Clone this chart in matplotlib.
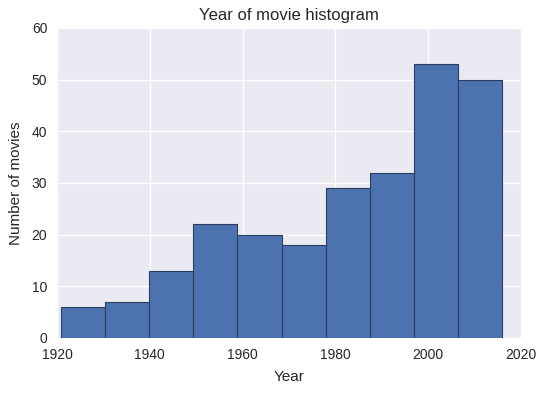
import matplotlib
matplotlib.use("Agg")
import matplotlib.pyplot as plt
import numpy as np

# histogram bins (years) and counts
bin_edges = [1920.8, 1930.3, 1939.9, 1949.4, 1958.9, 1968.4,
             1977.9, 1987.4, 1997.0, 2006.5, 2016.0]
counts = [6, 7, 13, 22, 20, 18, 29, 32, 53, 50]

plt.rcParams["font.family"] = ["Liberation Sans", "DejaVu Sans"]

fig = plt.figure(figsize=(5.46, 3.93), dpi=100)
fig.patch.set_facecolor("white")
ax = fig.add_axes([0.1044, 0.14, 0.8498, 0.7888])
ax.set_facecolor("#EAEAF2")
for s in ax.spines.values():
    s.set_visible(False)
ax.grid(True, color="white", linewidth=1.0)
ax.set_axisbelow(True)

edges = np.asarray(bin_edges)
ax.bar(edges[:-1], counts, width=np.diff(edges), align="edge",
       color="#4C72B0", edgecolor="#2B3E5E", linewidth=0.8, zorder=2)

ax.set_xlim(1920, 2020)
ax.set_ylim(0, 60)
ax.set_xticks(np.arange(1920, 2021, 20))
ax.set_yticks(np.arange(0, 61, 10))
ax.tick_params(length=0, labelsize=10, colors="#262626", pad=7)

ax.set_title("Year of movie histogram", fontsize=12, color="#262626", pad=6)
ax.set_xlabel("Year", fontsize=11, color="#262626", labelpad=6)
ax.set_ylabel("Number of movies", fontsize=11, color="#262626", labelpad=6)

fig.savefig("out.png")
